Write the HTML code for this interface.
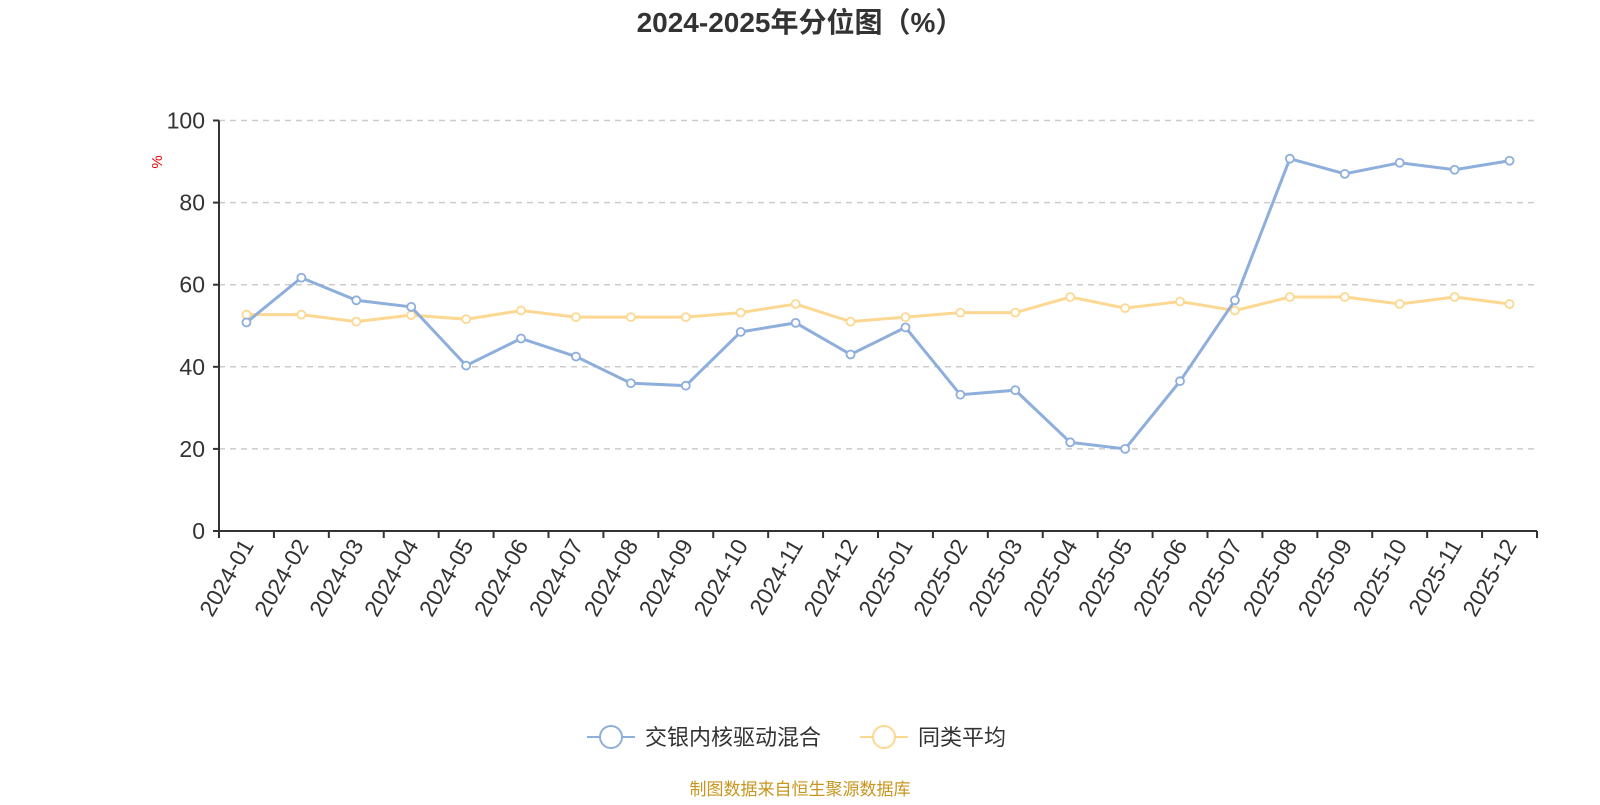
<!DOCTYPE html>
<html><head><meta charset="utf-8"><style>
body{margin:0;background:#fff;width:1600px;height:800px;overflow:hidden}
text{font-family:"Liberation Sans","Noto Sans CJK SC",sans-serif}
</style></head><body>
<svg id="c" width="1600" height="800">
<text x="800" y="32" text-anchor="middle" font-size="28" font-weight="bold" fill="#333">2024-2025年分位图（%）</text>
<text x="0" y="0" transform="translate(162,162) rotate(-90)" text-anchor="middle" font-size="15" fill="#e00">%</text>
<g id="grid"></g><g id="axes"></g><g id="series"></g>
<g>
<g><line x1="587" y1="737" x2="635" y2="737" stroke="#8eaedb" stroke-width="2"/><circle cx="611" cy="737" r="11" fill="#fff" stroke="#8eaedb" stroke-width="2"/><text x="645" y="745" font-size="22" fill="#333">交银内核驱动混合</text></g>
<g><line x1="860" y1="737" x2="908" y2="737" stroke="#fcd892" stroke-width="2"/><circle cx="884" cy="737" r="11" fill="#fff" stroke="#fcd892" stroke-width="2"/><text x="918" y="745" font-size="22" fill="#333">同类平均</text></g>
</g>
<text x="800" y="795" text-anchor="middle" font-size="17" fill="#c8961e">制图数据来自恒生聚源数据库</text>
</svg>
<script>
const categories=["2024-01","2024-02","2024-03","2024-04","2024-05","2024-06","2024-07","2024-08","2024-09","2024-10","2024-11","2024-12","2025-01","2025-02","2025-03","2025-04","2025-05","2025-06","2025-07","2025-08","2025-09","2025-10","2025-11","2025-12"];
const fundValues=[50.8,61.7,56.2,54.6,40.3,46.9,42.5,36.0,35.4,48.5,50.7,43.0,49.6,33.2,34.3,21.6,20.0,36.5,56.2,90.7,87.0,89.7,88.0,90.2];
const avgValues=[52.7,52.7,51.0,52.6,51.6,53.7,52.1,52.1,52.1,53.2,55.3,51.0,52.1,53.2,53.2,57.0,54.3,55.9,53.7,57.0,57.0,55.3,57.0,55.3];
const yTicks=[0,20,40,60,80,100];
const NS="http://www.w3.org/2000/svg";
const L=219,R=1537,T=120.5,B=531;
const bw=(R-L)/categories.length;
const xs=i=>L+bw*(i+0.5);
const ys=v=>B-(v/100)*(B-T);
function mk(tag,attrs,parent){const e=document.createElementNS(NS,tag);for(const k in attrs)e.setAttribute(k,attrs[k]);parent.appendChild(e);return e;}
const grid=document.getElementById('grid'),axes=document.getElementById('axes'),ser=document.getElementById('series');
yTicks.forEach(t=>{
 if(t>0){const g=mk('line',{x1:L,x2:R,y1:ys(t),y2:ys(t),stroke:'#ccc','stroke-dasharray':'6,5','stroke-width':1.5},grid);
 
 }
 mk('line',{x1:L-6,x2:L,y1:ys(t),y2:ys(t),stroke:'#333','stroke-width':2},axes);
 const lb=mk('text',{x:L-14,y:ys(t)+8,'text-anchor':'end','font-size':23,fill:'#333'},axes);lb.textContent=t;
 
 
});
mk('line',{x1:L,x2:L,y1:T,y2:B,stroke:'#333','stroke-width':2},axes);
mk('line',{x1:L,x2:R,y1:B,y2:B,stroke:'#333','stroke-width':2},axes);
for(let i=0;i<=categories.length;i++)mk('line',{x1:L+bw*i,x2:L+bw*i,y1:B,y2:B+7,stroke:'#333','stroke-width':2},axes);
categories.forEach((c,i)=>{
 const x=xs(i)+8,y=B+14;
 const lb=mk('text',{x:x,y:y,'text-anchor':'end','font-size':23,fill:'#333',transform:`rotate(-60 ${x} ${y})`},axes);lb.textContent=c;
 
 
});
function drawSeries(vals,color,name){
 const g=mk('g',{},ser);
 
 
 mk('polyline',{points:vals.map((v,i)=>xs(i)+','+ys(v)).join(' '),fill:'none',stroke:color,'stroke-width':3},g);
 vals.forEach((v,i)=>{const p=mk('circle',{cx:xs(i),cy:ys(v),r:4,fill:'#fff',stroke:color,'stroke-width':1.8},g);
 
 });
}
drawSeries(avgValues,'#fcd892','average-series');
drawSeries(fundValues,'#8eaedb','fund-series');
</script>
</body></html>
